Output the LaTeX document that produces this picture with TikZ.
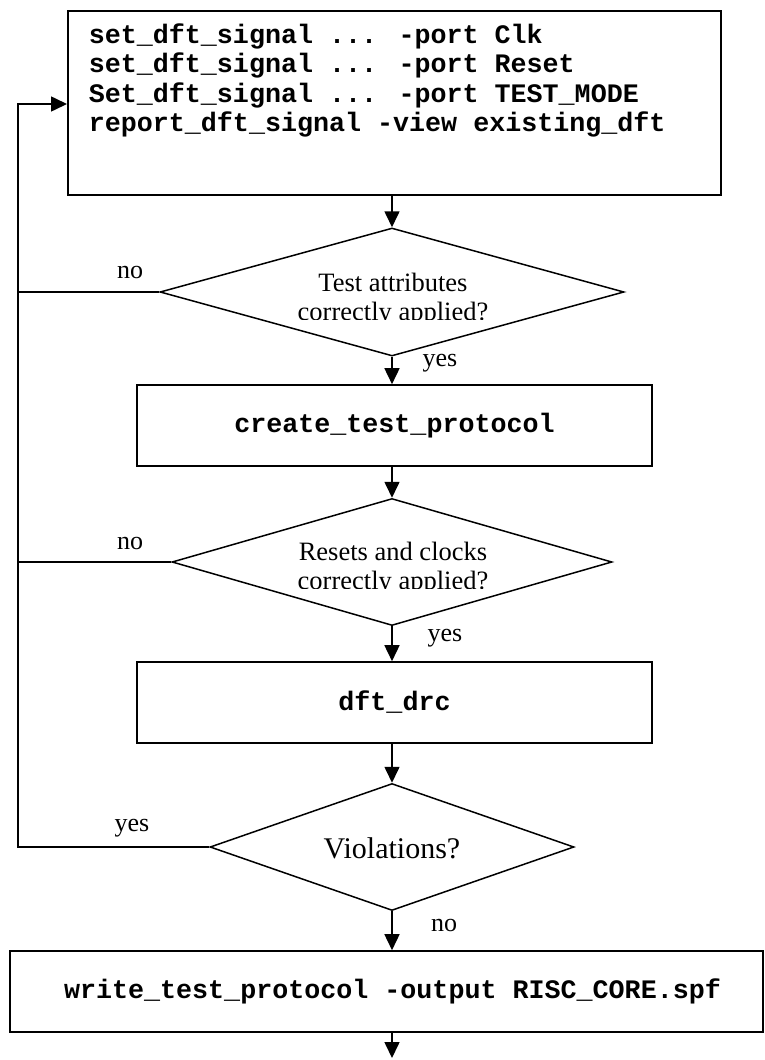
\documentclass[tikz,border=0pt]{standalone}
\usepackage{fontspec}
\setmainfont{Liberation Serif}
\newfontfamily\codefont{Liberation Mono}
\usetikzlibrary{shapes.geometric,arrows.meta}
\begin{document}
\begin{tikzpicture}[x=1pt,y=-1pt,
  line width=1.6pt,
  arr/.style={-{Triangle[length=16pt,width=15pt]}},
  procbox/.style={draw,rectangle,inner sep=0pt,font=\codefont\bfseries\fontsize{26.7}{29.6}\selectfont},
  codetext/.style={inner sep=0pt,font=\codefont\bfseries\fontsize{26.7}{29.6}\selectfont},
  decision/.style={draw,diamond,inner sep=0pt,line width=1.5pt},
  dtext/.style={inner sep=0pt,font=\fontsize{26.5}{29}\selectfont},
  lbl/.style={inner sep=0pt,font=\fontsize{26}{29}\selectfont},
]
\useasboundingbox (0,0) rectangle (764,1060);

% boxes
\node[procbox, minimum width=653pt, minimum height=184pt, anchor=north west] (box1) at (67,10) {};
\node[codetext, anchor=base west] (box1txt) at (88,43)
  {\begin{tabular}[t]{@{}l@{}}set\_dft\_signal ... -port Clk\\
   set\_dft\_signal ... -port Reset\\
   Set\_dft\_signal ... -port TEST\_MODE\\
   report\_dft\_signal -view existing\_dft\end{tabular}};

\node[procbox, minimum width=515pt, minimum height=81pt] (box2) at (394.5,425.5) {create\_test\_protocol};
\node[procbox, minimum width=515pt, minimum height=81pt] (box3) at (394.5,702.5) {dft\_drc};
\node[procbox, minimum width=753pt, minimum height=81pt] (box4) at (386.5,991.5) {\hspace*{12pt}write\_test\_protocol -output RISC\_CORE.spf};

% decisions
\node[decision, minimum width=464pt, minimum height=128pt] (d1) at (392,292) {};
\node[decision, minimum width=440pt, minimum height=127pt] (d2) at (392,562) {};
\node[decision, minimum width=364pt, minimum height=127pt] (d3) at (392,847) {};

\begin{scope}
  \clip (150,240) rectangle (640,319.5);
  \node[dtext, anchor=base] (d1txt) at (393,291)
    {\begin{tabular}[t]{@{}c@{}}Test attributes\\ correctly applied?\end{tabular}};
\end{scope}
\begin{scope}
  \clip (150,510) rectangle (640,588.5);
  \node[dtext, anchor=base] (d2txt) at (393,560)
    {\begin{tabular}[t]{@{}c@{}}Resets and clocks\\ correctly applied?\end{tabular}};
\end{scope}
\node[inner sep=0pt, font=\fontsize{30}{33}\selectfont, anchor=base] (d3txt) at (392,858) {Violations?};

% loop-back coordinates
\coordinate (loopT) at (18,104);
\coordinate (loopB) at (18,847);
\coordinate (endpt) at (392,1058);

% main flow
\draw[arr] (d1.north |- box1.south) -- (d1.north);
\draw[arr] (d1.south) -- (d1.south |- box2.north);
\draw[arr] (d2.north |- box2.south) -- (d2.north);
\draw[arr] (d2.south) -- (d2.south |- box3.north);
\draw[arr] (d3.north |- box3.south) -- (d3.north);
\draw[arr] (d3.south) -- (d3.south |- box4.north);
\draw[arr] (d3.south |- box4.south) -- (endpt);

% loop back
\draw[arr] (d3.west) -- (loopB) -- (loopT) -- (loopT -| box1.west);
\draw (d1.west) -- (d1.west -| loopT);
\draw (d2.west) -- (d2.west -| loopT);

% labels
\node[lbl] (no1) at (130,272) {no};
\node[lbl] (yes1) at (440,363) {yes};
\node[lbl] (no2) at (130,543) {no};
\node[lbl] (yes2) at (445,638) {yes};
\node[lbl] (yes3) at (132,828) {yes};
\node[lbl] (no3) at (444,925) {no};
\end{tikzpicture}
\end{document}
